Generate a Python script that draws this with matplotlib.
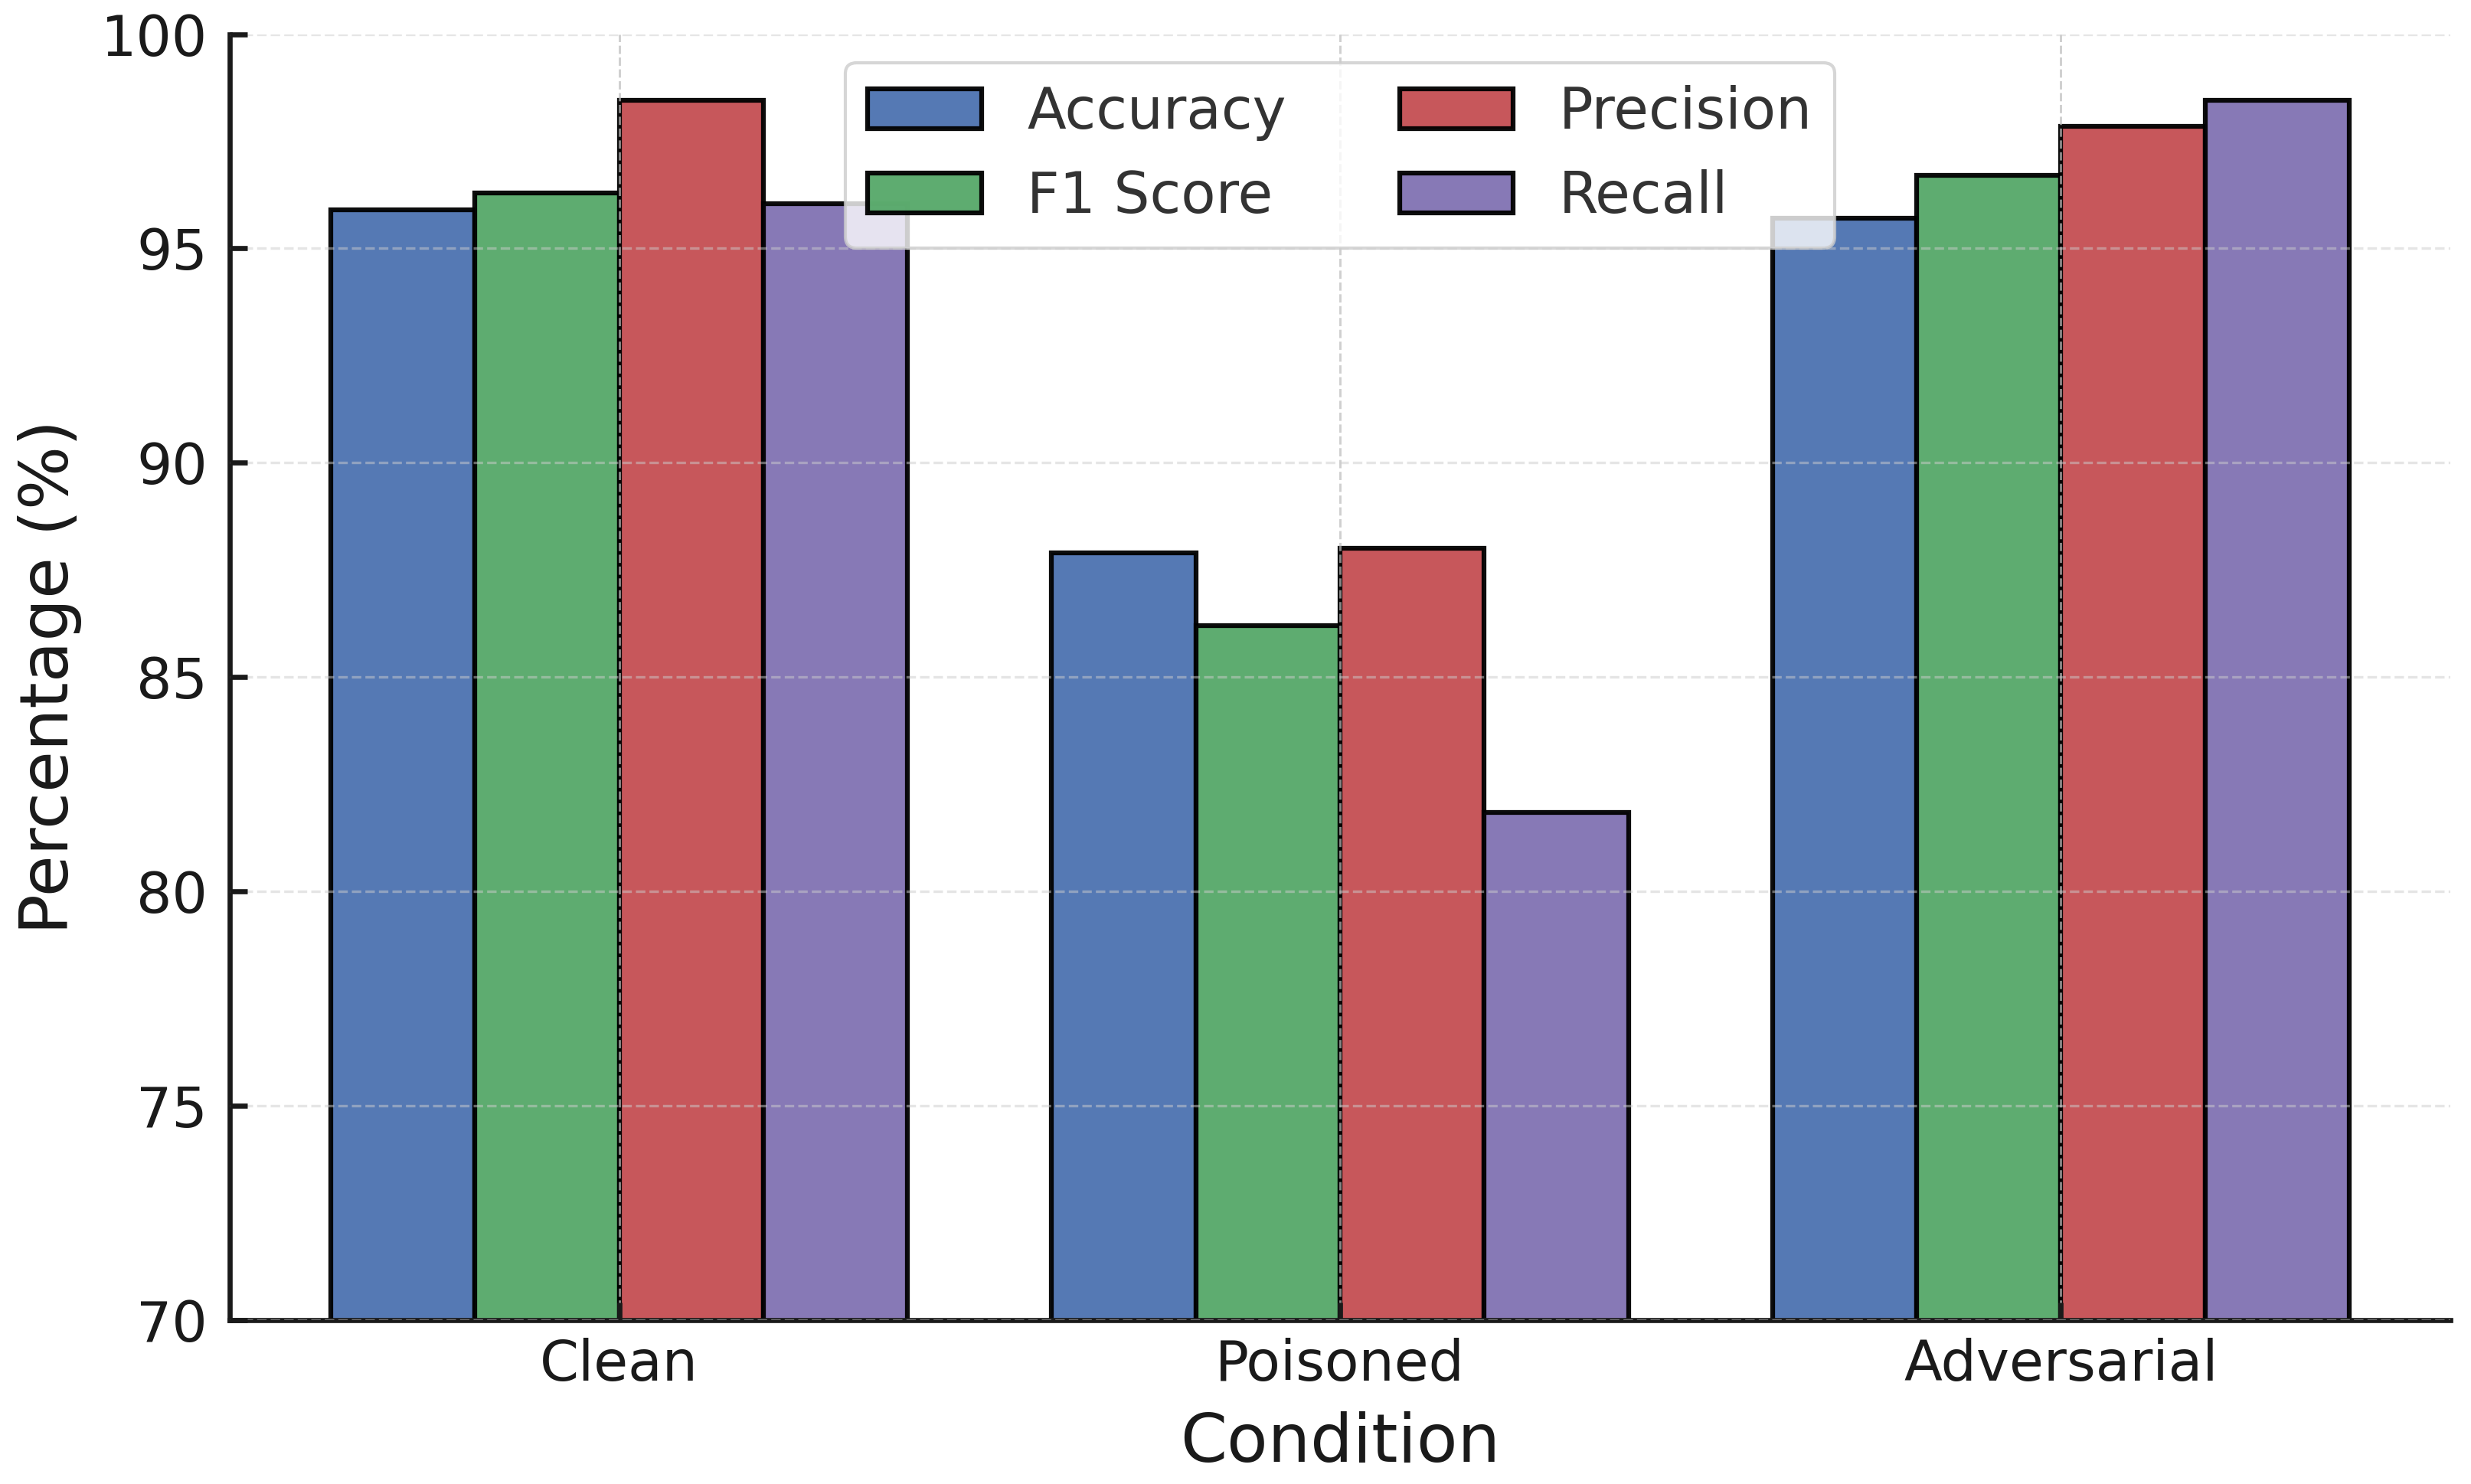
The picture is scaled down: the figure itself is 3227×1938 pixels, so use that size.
import matplotlib
matplotlib.use("Agg")
import matplotlib.pyplot as plt
import numpy as np

# dati
conditions = ["Clean", "Poisoned", "Adversarial"]
metrics = ["Accuracy", "F1 Score", "Precision", "Recall"]
accuracy = [95.9, 87.9, 95.7]
f1_score = [96.3, 86.2, 96.7]
precision = [98.45, 88.0, 97.85]
recall = [96.05, 81.85, 98.45]
colors = ["#4C72B0", "#55A868", "#C44E52", "#8172B2"]

series = [accuracy, f1_score, precision, recall]

fig = plt.figure(figsize=(3227 / 300, 1938 / 300), dpi=300)
ax = fig.add_axes([0.093, 0.1105, 0.8986, 0.8665])

x = np.arange(len(conditions))
width = 0.2
for j, (name, vals) in enumerate(zip(metrics, series)):
    ax.bar(x + (j - 1.5) * width, vals, width, label=name, color=colors[j],
           alpha=0.95, edgecolor="black", linewidth=1.5)

ax.set_ylim(70, 100)
ax.set_yticks(np.arange(70, 101, 5))
ax.set_xticks(x)
ax.set_xticklabels(conditions)

ax.set_axisbelow(False)
ax.grid(axis="y", linestyle="--", color="#cccccc", alpha=0.5, linewidth=0.8)
ax.grid(axis="x", linestyle="--", color="#bbbbbb", alpha=0.7, linewidth=0.7)

for s in ["top", "right"]:
    ax.spines[s].set_visible(False)
for s in ["left", "bottom"]:
    ax.spines[s].set_color("#1a1a1a")
    ax.spines[s].set_linewidth(1.6)

ax.tick_params(axis="both", direction="in", length=5.5, width=1.6,
               color="#1a1a1a", labelsize=17.5, labelcolor="#1a1a1a", pad=7)
ax.tick_params(axis="x", pad=5.5)

ax.set_xlabel("Condition", fontsize=21, color="#1a1a1a", labelpad=6)
ax.set_ylabel("Percentage (%)", fontsize=21, color="#1a1a1a", labelpad=6)

leg = ax.legend(loc="upper center", ncol=2, fontsize=17.8)
for t in leg.get_texts():
    t.set_color("#333333")

fig.savefig("out.png", dpi=300)
